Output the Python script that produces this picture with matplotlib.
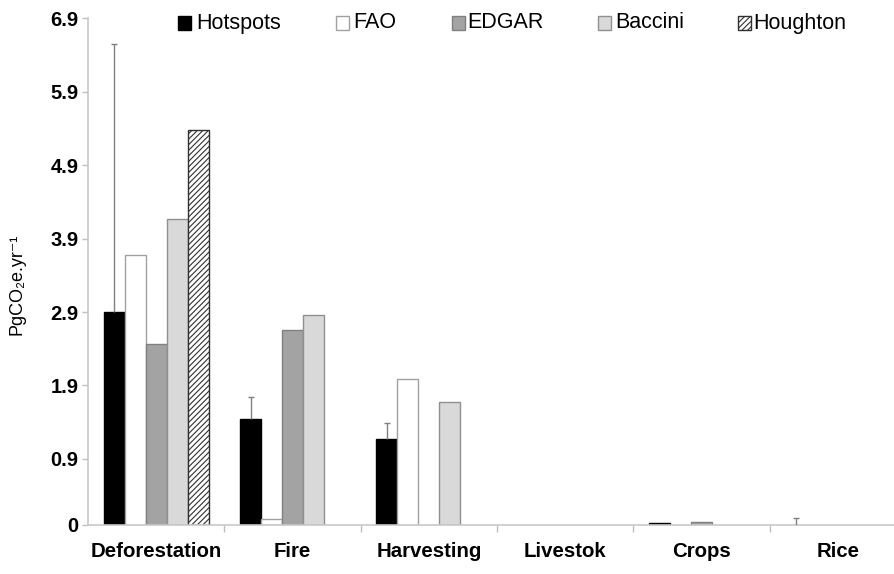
import matplotlib
matplotlib.use("Agg")
import matplotlib.pyplot as plt
from matplotlib.patches import Rectangle
import numpy as np

plt.rcParams['font.family'] = ['Liberation Sans', 'DejaVu Sans']
plt.rcParams['hatch.linewidth'] = 0.8

categories = ["Deforestation", "Fire", "Harvesting", "Livestok", "Crops", "Rice"]
series = ["Hotspots", "FAO", "EDGAR", "Baccini", "Houghton"]
hotspots = [2.90, 1.45, 1.17, 0.0, 0.03, 0.0]
hotspots_err = [3.65, 0.29, 0.22, 0.0, 0.0, 0.10]
fao = [3.68, 0.08, 1.99, 0.0, 0.0, 0.0]
edgar = [2.47, 2.65, 0.0, 0.0, 0.045, 0.0]
baccini = [4.17, 2.86, 1.68, 0.0, 0.0, 0.0]
houghton = [5.38, 0.0, 0.0, 0.0, 0.0, 0.0]
yticks = [0, 0.9, 1.9, 2.9, 3.9, 4.9, 5.9, 6.9]

W, H = 894, 574
fig = plt.figure(figsize=(W / 100, H / 100), dpi=100)
ax = fig.add_axes([88 / W, 49 / H, 818 / W, (525 - 18.3) / H])

x = np.arange(len(categories))
bw = 0.154
styles = [
    dict(facecolor="#000000", edgecolor="#000000"),
    dict(facecolor="#ffffff", edgecolor="#a0a0a0"),
    dict(facecolor="#a3a3a3", edgecolor="#808080"),
    dict(facecolor="#d9d9d9", edgecolor="#909090"),
    dict(facecolor="#ffffff", edgecolor="#303030", hatch="//////"),
]
data = [hotspots, fao, edgar, baccini, houghton]
for i, (name, vals, st) in enumerate(zip(series, data, styles)):
    vals = np.asarray(vals)
    pos = x + (i - 2) * bw
    m = vals > 0
    ax.bar(pos[m], vals[m], width=bw, linewidth=1.0, label=name, zorder=2, **st)
    if i == 0:
        err = np.asarray(hotspots_err)
        e = err > 0
        ax.vlines(pos[e], vals[e], vals[e] + err[e], color="#808080", lw=1.0, zorder=3)
        ax.plot(pos[e], vals[e] + err[e], ls="none", marker="_", ms=5, mew=1.0,
                color="#808080", zorder=3)

ax.set_xlim(-0.5, len(categories) - 0.5)
ax.set_ylim(0, 6.9)
ax.set_yticks(yticks)
ax.set_yticklabels([f"{t:g}" for t in yticks], fontsize=14.5, fontweight="bold")
ax.set_xticks(x)
ax.set_xticklabels(categories, fontsize=14.7, fontweight="bold")
ax.tick_params(axis="x", length=0, pad=12)
ax.set_xticks(np.arange(0.5, len(categories) - 0.5, 1), minor=True)
ax.tick_params(axis="x", which="minor", length=5, color="#c0c0c0", width=1)
ax.tick_params(axis="y", length=4, color="#c0c0c0", width=1, pad=3)
for s in ["top", "right"]:
    ax.spines[s].set_visible(False)
for s in ["left", "bottom"]:
    ax.spines[s].set_color("#c8c8c8")
    ax.spines[s].set_linewidth(1.2)

fig.text(17 / W, 1 - 284 / H, "PgCO₂e.yr⁻¹", rotation=90, fontsize=13,
         ha="center", va="center")

# legend (manual, to match the reference spacing)
marker_x = [178, 336, 452, 598, 738]
text_x = [196, 353, 467, 615, 753]
ly = 23
for name, st, mx, tx in zip(series, styles, marker_x, text_x):
    fig.add_artist(Rectangle((mx / W, 1 - (ly + 6.5) / H), 13 / W, 13 / H,
                             transform=fig.transFigure, linewidth=1.0, **st))
    fig.text(tx / W, 1 - ly / H, name, fontsize=15.5, ha="left", va="center")

fig.savefig("out.png", dpi=100)
